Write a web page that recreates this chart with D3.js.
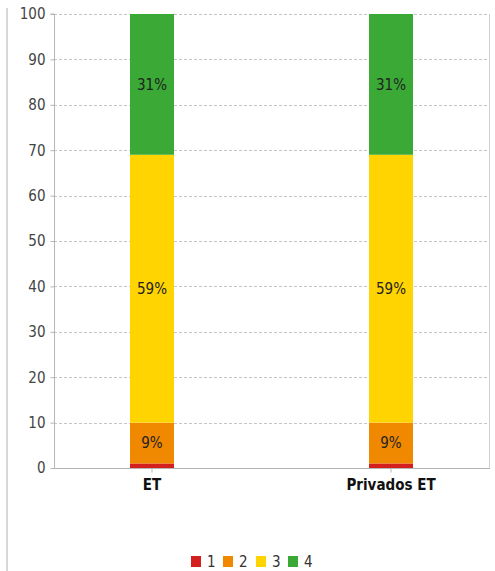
<!DOCTYPE html>
<html><head><meta charset="utf-8">
<script src="https://cdn.jsdelivr.net/npm/d3@7"></script>
<style>body{margin:0;background:#fff;}svg{display:block;}</style>
</head><body>
<svg id="chart" width="495" height="571"></svg>
<script>
const categories = ["ET", "Privados ET"];
const seriesNames = ["1", "2", "3", "4"];
const seriesColors = ["#d41f1f", "#f08800", "#ffd400", "#3aa935"];
const values1 = [1, 1];
const values2 = [9, 9];
const values3 = [59, 59];
const values4 = [31, 31];
const yTicks = [0, 10, 20, 30, 40, 50, 60, 70, 80, 90, 100];

const allValues = [values1, values2, values3, values4];
const rows = categories.map((c, i) => {
  const r = {cat: c};
  seriesNames.forEach((s, j) => r[s] = allValues[j][i]);
  return r;
});

const svg = d3.select("#chart");
const m = {left: 54, right: 489, top: 14, bottom: 468};
const x = d3.scaleBand().domain(categories).range([m.left, m.right]).paddingInner(0.816).paddingOuter(0.318);
const y = d3.scaleLinear().domain([0, 100]).range([m.bottom, m.top]);
const font = "'DejaVu Sans Condensed', 'DejaVu Sans', sans-serif";

// outer left frame line
svg.append("line").attr("x1", 7).attr("x2", 7).attr("y1", 8).attr("y2", 571).attr("stroke", "#b0b0b0").attr("stroke-width", 1);

// grid
svg.append("g").selectAll("line").data(yTicks.filter(d => d > 0)).join("line")
  .attr("x1", m.left).attr("x2", m.right)
  .attr("y1", d => Math.round(y(d)) + 0.5).attr("y2", d => Math.round(y(d)) + 0.5)
  .attr("stroke", "#c4c4c4").attr("stroke-dasharray", "3,2");

// right border
svg.append("line").attr("x1", m.right + 0.5).attr("x2", m.right + 0.5).attr("y1", m.top).attr("y2", m.bottom).attr("stroke", "#d0d0d0");

// bars
const stack = d3.stack().keys(seriesNames)(rows);
svg.append("g").selectAll("g").data(stack).join("g")
  .attr("fill", (d, i) => seriesColors[i])
  .selectAll("rect").data(d => d).join("rect")
  .attr("x", d => x(d.data.cat))
  .attr("width", x.bandwidth())
  .attr("y", d => y(d[1]))
  .attr("height", d => y(d[0]) - y(d[1]));

// bar labels
svg.append("g").selectAll("g").data(stack).join("g")
  .selectAll("text").data(d => d.filter(p => (p[1] - p[0]) >= 5).map(p => ({p, key: d.key}))).join("text")
  .attr("x", d => x(d.p.data.cat) + x.bandwidth() / 2)
  .attr("y", d => (y(d.p[0]) + y(d.p[1])) / 2)
  .attr("dy", "0.36em")
  .attr("text-anchor", "middle")
  .attr("font-family", font).attr("font-size", 15).attr("fill", "#222")
  .text(d => Math.round(d.p[1] - d.p[0]) + "%");

// y axis
const yAxis = svg.append("g").attr("transform", `translate(${m.left + 0.5},0)`)
  .call(d3.axisLeft(y).tickValues(yTicks).tickSize(4).tickPadding(5));
yAxis.selectAll("text").attr("font-family", font).attr("font-size", 15).attr("fill", "#444");
yAxis.selectAll("line,path").attr("stroke", "#b5b5b5");
yAxis.select("path").attr("d", `M-4,${m.top}H0V${m.bottom}`);

// x axis
const xAxis = svg.append("g").attr("transform", `translate(0,${m.bottom + 0.5})`)
  .call(d3.axisBottom(x).tickSize(4).tickPadding(7));
xAxis.selectAll("text").attr("font-family", font).attr("font-size", 15).attr("font-weight", "bold").attr("fill", "#111");
xAxis.selectAll("line,path").attr("stroke", "#b5b5b5");
xAxis.select("path").attr("d", `M${m.left},0H${m.right + 1}`);

// legend
const legX = [191, 223, 256, 288];
const leg = svg.append("g").selectAll("g").data(seriesNames).join("g")
  .attr("transform", (d, i) => `translate(${legX[i]},556)`);
leg.append("rect").attr("width", 10).attr("height", 11).attr("fill", (d, i) => seriesColors[i]);
leg.append("text").attr("x", 16).attr("y", 6).attr("dy", "0.36em")
  .attr("font-family", font).attr("font-size", 15).attr("fill", "#333").text(d => d);
</script>
</body></html>
